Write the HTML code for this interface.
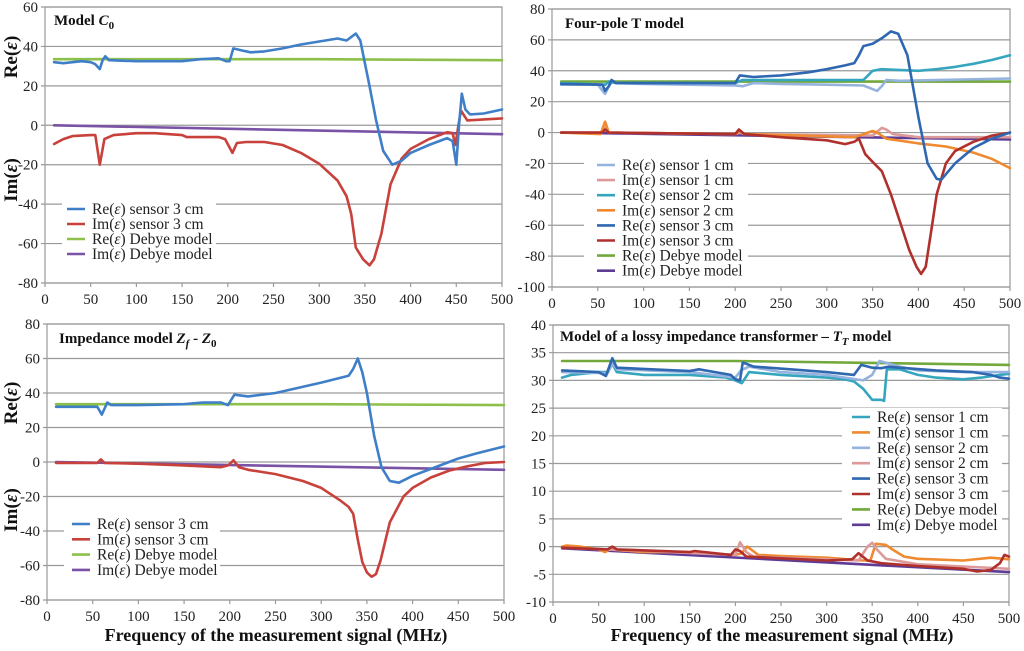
<!DOCTYPE html>
<html><head><meta charset="utf-8">
<style>
html,body{margin:0;padding:0;background:#fff;}
svg, svg text{font-family:"Liberation Serif","DejaVu Serif",serif;}
</style></head>
<body>
<svg id="root" width="1024" height="646" viewBox="0 0 1024 646" font-family="Liberation Serif, DejaVu Serif, serif" xmlns="http://www.w3.org/2000/svg"></svg>
<script>
// ---------- Panel A: Model C0 ----------
const aReX = [10,20,40,50,55,60,63,66,70,100,150,170,190,198,202,206,215,225,240,260,280,300,320,330,340,345,355,362,370,380,390,400,420,440,446,450,453,456,460,465,480,500];
const aReY = [32,31.5,32.5,32,31,28.5,33,35,33,32.5,32.5,33.5,34,32.5,32.5,39,38,37,37.5,39,41,42.5,44,43,46.5,43,20,3,-13,-20,-18,-14,-10,-6.5,-8,-20,0,16,8,5.5,6,8];
const aImX = [10,20,30,50,55,60,65,75,100,120,150,155,190,197,205,210,220,240,260,280,300,320,330,335,340,348,355,360,368,378,390,400,420,440,446,449,452,455,462,480,500];
const aImY = [-9.5,-7,-5.5,-5,-5,-20,-7,-5,-4,-4,-5,-6,-6,-7,-14,-9,-8.5,-8.5,-10,-14,-19.5,-28,-36,-45,-62,-68,-71,-68,-55,-30,-17,-12,-7,-3.5,-4,-10,-1,7.5,2.5,3,3.5];
const aDebReX = [10,300,500]; const aDebReY = [33.5,33.5,33];
const aDebImX = [10,500]; const aDebImY = [0,-4.5];
const aYTicks = [60,40,20,0,-20,-40,-60,-80];

// ---------- Panel B: Four-pole T ----------
const bRe1X = [10,50,58,62,66,70,100,200,208,220,250,300,340,355,360,365,380,500];
const bRe1Y = [31,31,25,30,33,32,31.5,30.5,30,32,31.5,31,30.5,27,30,34,33.5,35];
const bIm1X = [10,55,58,62,200,205,210,350,360,365,372,400,500];
const bIm1Y = [0,0,3,0,-1,0,-1,-2,3,2,-1,-3,-3];
const bRe2X = [10,58,62,70,200,208,340,350,360,400,420,440,460,480,500];
const bRe2Y = [32,31,33,32,32,34,34,40,41,40,41,42.5,44.5,47,50];
const bIm2X = [10,53,58,62,200,205,210,330,350,355,365,400,430,460,480,500];
const bIm2Y = [0,-1,7,0,-1,1,-1,-3,1,0,-4,-7,-9,-13,-17,-23];
const bRe3X = [10,55,58,62,65,70,200,205,220,250,280,300,320,330,335,340,350,360,370,378,388,400,410,420,425,440,460,480,500];
const bRe3Y = [31.5,31,27,30,34,32,32,37,36,37,39,41,43.5,45,50,56,57.5,61,65.5,64,50,10,-20,-30,-30.5,-20,-10,-4,0];
const bIm3X = [10,55,58,62,200,204,210,250,300,320,330,335,342,350,360,370,380,390,398,403,408,415,420,430,440,460,480,500];
const bIm3Y = [0,0,2,0,-1,2,-1,-3,-5,-7.5,-6,-4,-14,-19,-25,-40,-58,-76,-87,-91.5,-87,-60,-40,-20,-12,-6,-2,0];
const bDebReX = [10,500]; const bDebReY = [33,33];
const bDebImX = [10,500]; const bDebImY = [0,-4.5];
const bYTicks = [80,60,40,20,0,-20,-40,-60,-80,-100];

// ---------- Panel C: Impedance Zf - Z0 ----------
const cReX = [10,55,60,63,66,70,100,150,170,190,198,205,220,250,300,330,335,340,345,350,358,366,375,385,400,420,450,470,500];
const cReY = [32,32,27.5,31,34.5,33,33,33.5,34.5,34.5,33,39,38,40,46,50,54,60,52,40,15,-3,-11,-12,-8,-4,2,5,9];
const cImX = [10,55,59,63,100,150,190,198,204,210,220,250,280,300,320,330,335,340,345,350,355,360,365,375,390,400,420,440,460,480,500];
const cImY = [-0.5,-0.5,1.5,-0.5,-1,-2,-3,-2,1,-3,-4.5,-7,-11,-15,-22,-26,-30,-45,-58,-64,-66.5,-65,-57,-35,-20,-15,-9,-5,-2.5,-0.5,0];
const cDebReX = [10,300,500]; const cDebReY = [33.5,33.5,33];
const cDebImX = [10,500]; const cDebImY = [0,-4.5];
const cYTicks = [80,60,40,20,0,-20,-40,-60,-80];

// ---------- Panel D: Lossy transformer TT ----------
const dRe1X = [10,20,50,60,65,70,100,150,190,200,207,215,250,300,320,330,340,350,360,363,366,380,400,420,450,470,490,500];
const dRe1Y = [30.5,31,31.5,31.5,33,31.5,31,31,30.5,30,29.5,31.5,31,30.5,30.2,29.8,28.5,26.5,26.5,26.3,32,32,31,30.5,30.2,30.5,31,31.2];
const dIm1X = [10,15,30,50,57,62,100,150,200,207,213,225,250,300,340,348,354,365,372,385,400,450,480,500];
const dIm1Y = [0,0.2,0,-0.5,-1,-0.5,-1,-1,-1.5,-1.2,0,-1.5,-1.7,-2,-2.5,-2.5,0.5,0.3,-0.5,-1.8,-2.2,-2.5,-2,-2.3];
const dRe2X = [10,60,65,70,150,200,206,215,250,300,340,350,358,365,380,400,450,500];
const dRe2Y = [31.5,31.3,33,32,31.5,30.5,31.8,32.5,31.5,31,30,31,33.5,33.2,32.5,31.8,31.5,31.5];
const dIm2X = [10,60,200,205,212,220,300,335,345,350,355,365,400,450,500];
const dIm2Y = [-0.2,-0.5,-1.5,0.8,-1,-1.8,-2.3,-2.5,0,0.7,-0.5,-2.2,-3.2,-3.6,-4];
const dRe3X = [10,50,58,65,70,150,160,195,200,205,208,212,220,300,330,338,350,360,368,380,420,460,480,490,500];
const dRe3Y = [31.8,31.5,30.8,34,32.3,31.7,32,31,30.2,30,33.2,33,32.5,31.5,31,32.8,32.3,32.2,32.5,32.3,31.8,31.5,31,30.5,30.3];
const dIm3X = [10,60,65,70,150,155,195,200,205,212,300,328,335,345,360,400,450,465,480,490,495,500];
const dIm3Y = [-0.2,-0.5,0,-0.5,-1,-0.8,-1.5,-0.5,-0.8,-1.8,-2.5,-2.3,-1.2,-2.5,-3,-3.5,-4,-4.5,-4.2,-3,-1.5,-1.8];
const dDebReX = [10,200,500]; const dDebReY = [33.5,33.5,32.8];
const dDebImX = [10,500]; const dDebImY = [-0.3,-4.6];
const dYTicks = [40,35,30,25,20,15,10,5,0,-5,-10];

const xTicks = [0,50,100,150,200,250,300,350,400,450,500];

const NS = "http://www.w3.org/2000/svg";
const FF = 'Liberation Serif, DejaVu Serif, serif';
const root = document.getElementById('root');
function mk(tag, attrs, parent){
  const e = document.createElementNS(NS, tag);
  for (const k in attrs) e.setAttribute(k, attrs[k]);
  if (tag === 'text') e.setAttribute('font-family', FF);
  (parent||root).appendChild(e);
  return e;
}

function panel(cfg){
  const g = mk('g', {});
  
  
  const xs = v => cfg.x0 + (v-0)/(500)*(cfg.x1-cfg.x0);
  const ys = v => cfg.y0 + (cfg.yMax - v)/(cfg.yMax-cfg.yMin)*(cfg.y1-cfg.y0);
  cfg.yTicks.forEach(t => {
    const y = ys(t);
    const l = mk('line', {x1:cfg.x0-4, x2:cfg.x1, y1:y, y2:y, stroke:'#9a9a9a', 'stroke-width':1.2}, g);
    
    
    const tx = mk('text', {x:cfg.x0-7, y:y+5, 'text-anchor':'end', 'font-size':15, fill:'#222'}, g);
    tx.textContent = t;
    
    
  });
  const fr = mk('rect', {x:cfg.x0, y:cfg.y0, width:cfg.x1-cfg.x0, height:cfg.y1-cfg.y0, fill:'none', stroke:'#9a9a9a', 'stroke-width':1.2}, g);
  
  
  xTicks.forEach(t => {
    const x = xs(t);
    mk('line', {x1:x, x2:x, y1:cfg.y1, y2:cfg.y1+4, stroke:'#9a9a9a', 'stroke-width':1.2}, g);
    const tx = mk('text', {x:x, y:cfg.y1+21, 'text-anchor':'middle', 'font-size':15, fill:'#222'}, g);
    tx.textContent = t;
    
    
  });
  const lg = cfg.legend;
  const lb = mk('rect', {x:lg.bx, y:lg.by, width:lg.bw, height:lg.bh, fill:'#fff'}, g);
  
  
  cfg.series.forEach(s => {
    let d = '';
    s.x.forEach((v,i) => { d += (i?'L':'M') + xs(v).toFixed(1) + ',' + ys(s.y[i]).toFixed(1); });
    const p = mk('path', {d:d, fill:'none', stroke:s.c, 'stroke-width':2.6, 'stroke-linejoin':'round', 'stroke-linecap':'round'}, g);
    
    
  });
  cfg.series.slice().sort((a,b)=>a.li-b.li).forEach((s,i) => {
    const y = lg.ly + i*lg.dy;
    const e = mk('g', {}, g);
    
    
    mk('line', {x1:lg.lx, x2:lg.lx+18, y1:y, y2:y, stroke:s.c, 'stroke-width':2.6}, e);
    const t = mk('text', {x:lg.lx+25, y:y+5, 'font-size':15.5, fill:'#222'}, e);
    t.innerHTML = s.label;
  });
  const tt = mk('text', {x:cfg.tx, y:cfg.ty, 'font-size':15, 'font-weight':'bold', fill:'#111'}, g);
  tt.innerHTML = cfg.title;
  
  
}

const C = {blue:'#3f7fc8', red:'#c8413b', green:'#8cc04a', purple:'#7a52a6',
  lblue:'#95b3de', pink:'#dc9a9a', teal:'#35a6be', orange:'#ef8a30', dblue:'#2f68b0', dred:'#b0302c', dgreen:'#72a83c', dpurple:'#5e3c96'};
const E = '(<tspan font-style="italic">ε</tspan>)';

panel({name:'panel-model-c0', x0:45, x1:502, y0:7, y1:283, yMin:-80, yMax:60, yTicks:aYTicks,
  title:'Model <tspan font-style="italic">C</tspan><tspan font-size="11" dy="4">0</tspan>', tx:54, ty:25,
  legend:{bx:62, by:201, bw:154, bh:60, lx:67, ly:209, dy:15},
  series:[
    {id:'re-debye-line', x:aDebReX, y:aDebReY, c:C.green, li:2, label:'Re'+E+' Debye model'},
    {id:'im-debye-line', x:aDebImX, y:aDebImY, c:C.purple, li:3, label:'Im'+E+' Debye model'},
    {id:'im-sensor3-line', x:aImX, y:aImY, c:C.red, li:1, label:'Im'+E+' sensor 3 cm'},
    {id:'re-sensor3-line', x:aReX, y:aReY, c:C.blue, li:0, label:'Re'+E+' sensor 3 cm'}
  ]});

panel({name:'panel-four-pole', x0:552, x1:1010, y0:9, y1:287, yMin:-100, yMax:80, yTicks:bYTicks,
  title:'Four-pole T model', tx:565, ty:28,
  legend:{bx:584, by:157, bw:164, bh:122, lx:597, ly:165, dy:15.1},
  series:[
    {id:'re-debye-line', x:bDebReX, y:bDebReY, c:C.dgreen, li:6, label:'Re'+E+' Debye model'},
    {id:'im-debye-line', x:bDebImX, y:bDebImY, c:C.dpurple, li:7, label:'Im'+E+' Debye model'},
    {id:'re-sensor1-line', x:bRe1X, y:bRe1Y, c:C.lblue, li:0, label:'Re'+E+' sensor 1 cm'},
    {id:'im-sensor1-line', x:bIm1X, y:bIm1Y, c:C.pink, li:1, label:'Im'+E+' sensor 1 cm'},
    {id:'re-sensor2-line', x:bRe2X, y:bRe2Y, c:C.teal, li:2, label:'Re'+E+' sensor 2 cm'},
    {id:'im-sensor2-line', x:bIm2X, y:bIm2Y, c:C.orange, li:3, label:'Im'+E+' sensor 2 cm'},
    {id:'im-sensor3-line', x:bIm3X, y:bIm3Y, c:C.dred, li:5, label:'Im'+E+' sensor 3 cm'},
    {id:'re-sensor3-line', x:bRe3X, y:bRe3Y, c:C.dblue, li:4, label:'Re'+E+' sensor 3 cm'}
  ]});

panel({name:'panel-impedance', x0:47, x1:504, y0:324, y1:600, yMin:-80, yMax:80, yTicks:cYTicks,
  title:'Impedance model <tspan font-style="italic">Z</tspan><tspan font-style="italic" font-size="11" dy="4">f</tspan><tspan dy="-4"> - </tspan><tspan font-style="italic">Z</tspan><tspan font-size="11" dy="4">0</tspan>', tx:59, ty:343,
  legend:{bx:64, by:516, bw:156, bh:62, lx:72, ly:524, dy:15.3},
  series:[
    {id:'re-debye-line', x:cDebReX, y:cDebReY, c:C.green, li:2, label:'Re'+E+' Debye model'},
    {id:'im-debye-line', x:cDebImX, y:cDebImY, c:C.purple, li:3, label:'Im'+E+' Debye model'},
    {id:'im-sensor3-line', x:cImX, y:cImY, c:C.red, li:1, label:'Im'+E+' sensor 3 cm'},
    {id:'re-sensor3-line', x:cReX, y:cReY, c:C.blue, li:0, label:'Re'+E+' sensor 3 cm'}
  ]});

panel({name:'panel-lossy-transformer', x0:553, x1:1009, y0:325, y1:602, yMin:-10, yMax:40, yTicks:dYTicks,
  title:'Model of a lossy impedance transformer – <tspan font-style="italic">T</tspan><tspan font-style="italic" font-size="11" dy="4">T</tspan><tspan dy="-4"> model</tspan>', tx:560, ty:341,
  legend:{bx:842, by:408, bw:160, bh:125, lx:852, ly:417, dy:15.4},
  series:[
    {id:'re-debye-line', x:dDebReX, y:dDebReY, c:C.dgreen, li:6, label:'Re'+E+' Debye model'},
    {id:'im-debye-line', x:dDebImX, y:dDebImY, c:C.dpurple, li:7, label:'Im'+E+' Debye model'},
    {id:'re-sensor1-line', x:dRe1X, y:dRe1Y, c:C.teal, li:0, label:'Re'+E+' sensor 1 cm'},
    {id:'re-sensor2-line', x:dRe2X, y:dRe2Y, c:C.lblue, li:2, label:'Re'+E+' sensor 2 cm'},
    {id:'re-sensor3-line', x:dRe3X, y:dRe3Y, c:C.dblue, li:4, label:'Re'+E+' sensor 3 cm'},
    {id:'im-sensor1-line', x:dIm1X, y:dIm1Y, c:C.orange, li:1, label:'Im'+E+' sensor 1 cm'},
    {id:'im-sensor2-line', x:dIm2X, y:dIm2Y, c:C.pink, li:3, label:'Im'+E+' sensor 2 cm'},
    {id:'im-sensor3-line', x:dIm3X, y:dIm3Y, c:C.dred, li:5, label:'Im'+E+' sensor 3 cm'}
  ]});

function rotTitle(txt, x, y, name){
  const t = mk('text', {x:0, y:0, transform:'translate('+x+','+y+') rotate(-90)', 'text-anchor':'middle', 'font-size':19, 'font-weight':'bold', fill:'#111'});
  t.innerHTML = txt;
  
  
}
rotTitle('Re'+E, 17, 57, 'y-axis-title-re');
rotTitle('Im'+E, 17, 180, 'y-axis-title-im');
rotTitle('Re'+E, 17, 403, 'y-axis-title-re');
rotTitle('Im'+E, 17, 510, 'y-axis-title-im');
function xTitle(x, name){
  const t = mk('text', {x:x, y:641, 'text-anchor':'middle', 'font-size':18, 'font-weight':'bold', fill:'#111'});
  t.textContent = 'Frequency of the measurement signal (MHz)';
  
  
}
xTitle(276, 'x-axis-title');
xTitle(782, 'x-axis-title');
</script>
</body></html>
